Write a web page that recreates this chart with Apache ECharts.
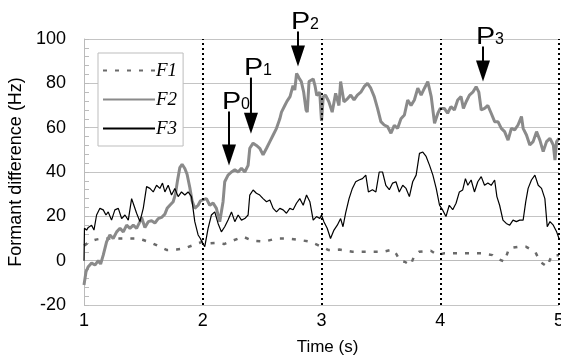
<!DOCTYPE html>
<html>
<head>
<meta charset="utf-8">
<script src="https://cdn.jsdelivr.net/npm/echarts@6/dist/echarts.min.js"></script>
<style>
  html, body { margin: 0; padding: 0; background: #fff; }
  #chart { width: 561px; height: 356px; }
</style>
</head>
<body>
<div id="chart"></div>
<script>
// F1 (dashed)
var f1Time = [1.00, 1.05, 1.10, 1.15, 1.25, 1.35, 1.45, 1.50, 1.57, 1.63, 1.70, 1.78, 1.85, 1.92, 2.00,
  2.06, 2.12, 2.18, 2.25, 2.34, 2.42, 2.52, 2.62, 2.72, 2.80, 2.90, 2.97, 3.06, 3.15, 3.26, 3.40,
  3.52, 3.60, 3.63, 3.66, 3.70, 3.75, 3.78, 3.82, 3.92, 3.98, 4.03, 4.15, 4.25, 4.35, 4.44, 4.48,
  4.54, 4.58, 4.66, 4.72, 4.80, 4.84, 4.90, 4.94, 5.00];
var f1Val = [6.8, 8.6, 9.5, 10, 10, 10, 10, 9.3, 8, 6.5, 4.8, 5, 5.6, 7, 8.6,
  7.8, 8, 7.5, 9, 10.8, 9, 8.6, 10, 10, 9.5, 8.6, 7, 4.8, 5, 4, 4,
  4, 5, 3, 0, -0.5, -2, 2, 4, 4.5, 2.5, 3.3, 3.3, 3.3, 3.3, 2.5, 1,
  -0.5, 5.6, 6.3, 6.3, 4, -0.5, -2.7, 2.5, 2.5];

// F2 (thick grey)
var f2Time = [1.000, 1.017, 1.036, 1.064, 1.092, 1.120, 1.140, 1.162, 1.190, 1.218, 1.246, 1.275, 1.303,
  1.331, 1.359, 1.387, 1.415, 1.443, 1.471, 1.485, 1.513, 1.541, 1.569, 1.597, 1.625, 1.653, 1.681,
  1.700, 1.723, 1.751, 1.770, 1.787, 1.807, 1.826, 1.849, 1.868, 1.891, 1.910, 1.933, 1.961, 1.980,
  2.000, 2.031, 2.059, 2.087, 2.115, 2.143, 2.157, 2.171, 2.185, 2.213, 2.242, 2.270, 2.298, 2.326,
  2.354, 2.382, 2.396, 2.424, 2.452, 2.480, 2.508, 2.537, 2.565, 2.593, 2.621, 2.649, 2.663, 2.691,
  2.710, 2.735, 2.760, 2.775, 2.790, 2.800, 2.815, 2.830, 2.850, 2.870, 2.880, 2.895, 2.930, 2.945,
  2.960, 2.985, 3.000, 3.015, 3.034, 3.062, 3.090, 3.119, 3.147, 3.161, 3.175, 3.189, 3.218, 3.246,
  3.274, 3.302, 3.331, 3.359, 3.387, 3.415, 3.444, 3.472, 3.500, 3.528, 3.556, 3.585, 3.613, 3.641,
  3.669, 3.698, 3.726, 3.754, 3.782, 3.811, 3.839, 3.867, 3.895, 3.924, 3.952, 3.980, 4.000, 4.034,
  4.062, 4.090, 4.119, 4.147, 4.175, 4.195, 4.218, 4.246, 4.274, 4.302, 4.325, 4.345, 4.373, 4.401,
  4.429, 4.458, 4.486, 4.514, 4.542, 4.571, 4.599, 4.627, 4.655, 4.684, 4.698, 4.726, 4.754, 4.782,
  4.811, 4.839, 4.867, 4.895, 4.924, 4.952, 4.966, 4.980, 5.000];
var f2Val = [-11, -5, -2.7, -1, -2, 0, -1.5, 2.5, 8.5, 11.6, 10, 13, 14.6,
  13, 16, 14.6, 16, 14.6, 17.6, 19.5, 15, 17.6, 18, 17, 19, 19.5, 21,
  23.6, 25, 26.6, 30, 36, 42, 43.5, 41.6, 39, 33, 27, 23.6, 25, 27,
  27.4, 28, 25, 26, 23.6, 17.6, 16.8, 26.6, 35.6, 38.6, 40, 41, 40, 41.7,
  40, 43, 50.7, 53, 52, 50.7, 47.7, 50.7, 53.7, 56.7, 59.7, 64, 67, 70,
  72, 74, 79, 77, 84.5, 83.5, 82, 80.8, 76, 68, 67, 80.8, 82, 79,
  74.5, 76, 63, 74, 74.7, 71.7, 67, 75.5, 70, 80.8, 80, 71.7, 73, 74.7,
  72.5, 74.7, 76, 78.5, 80, 77.8, 74, 68.7, 62.7, 61.2, 60.5, 57.5, 61, 59.7,
  64, 65.7, 72.5, 70, 72.5, 77.8, 74.7, 77.8, 80.8, 74, 62, 66.5, 68.7, 68.7,
  66.5, 69.5, 68, 72.5, 74, 68.7, 71.7, 74.7, 76, 78.5, 76, 68, 68.7, 70,
  66.5, 62.7, 62.7, 59.7, 58.2, 54.4, 59.7, 59, 61.2, 65, 59.7, 56.7, 52.2, 53.7,
  58.2, 54.4, 49.2, 53.7, 55.2, 52.2, 45.4, 53.7, 55.2];

// F3 (thin black)
var f3Time = [1.000, 1.004, 1.022, 1.036, 1.064, 1.084, 1.106, 1.134, 1.162, 1.185, 1.204, 1.232, 1.260,
  1.289, 1.317, 1.345, 1.373, 1.401, 1.420, 1.443, 1.471, 1.499, 1.527, 1.555, 1.583, 1.611, 1.639,
  1.661, 1.681, 1.709, 1.737, 1.765, 1.793, 1.821, 1.849, 1.877, 1.905, 1.933, 1.961, 1.980, 2.000,
  2.017, 2.045, 2.073, 2.101, 2.129, 2.157, 2.185, 2.213, 2.242, 2.270, 2.298, 2.326, 2.354, 2.382,
  2.396, 2.424, 2.452, 2.480, 2.508, 2.537, 2.565, 2.593, 2.621, 2.649, 2.677, 2.705, 2.733, 2.761,
  2.789, 2.817, 2.846, 2.874, 2.902, 2.930, 2.958, 2.986, 3.000, 3.020, 3.048, 3.076, 3.105, 3.133,
  3.161, 3.181, 3.203, 3.232, 3.260, 3.288, 3.316, 3.345, 3.373, 3.395, 3.429, 3.458, 3.486, 3.514,
  3.542, 3.571, 3.599, 3.627, 3.655, 3.684, 3.712, 3.740, 3.768, 3.797, 3.825, 3.853, 3.881, 3.910,
  3.938, 3.966, 3.994, 4.020, 4.048, 4.076, 4.105, 4.133, 4.161, 4.189, 4.212, 4.232, 4.260, 4.288,
  4.316, 4.345, 4.373, 4.401, 4.429, 4.458, 4.477, 4.500, 4.528, 4.556, 4.585, 4.613, 4.641, 4.669,
  4.698, 4.720, 4.740, 4.768, 4.797, 4.825, 4.853, 4.881, 4.901, 4.924, 4.952, 4.980, 5.000];
var f3Val = [0, 14.6, 13.8, 15, 16, 13.8, 20.6, 23.6, 22.9, 20.6, 22, 18.3, 22.9,
  23.6, 19, 20.6, 18.3, 28, 25, 21.4, 17.6, 23.6, 33.4, 32.6, 31, 34, 32.6,
  35, 31, 34, 29.6, 32.6, 28.9, 31, 29.6, 31, 28.9, 17.6, 11.6, 10, 7.8,
  6.3, 14.6, 20.6, 22, 16.8, 13, 15.3, 18.3, 22, 17.6, 20.6, 18.3, 19, 20.6,
  29.6, 31.9, 30.4, 29.6, 28, 26.6, 27.4, 23.6, 22, 23.6, 22.9, 21.4, 23.6, 23,
  25.9, 28, 25, 29.6, 26.6, 18.3, 19.9, 19, 20.6, 17.6, 14.6, 10, 13.8, 16,
  19, 15.3, 21.4, 28, 32.6, 35.6, 36.4, 37, 38.6, 31, 32, 31, 40, 40,
  34, 32, 35, 35.6, 31, 34, 32.6, 28.9, 35.6, 38.6, 48.4, 49, 47, 43,
  38.6, 32.6, 25, 22.9, 19.9, 25, 23, 25.9, 31, 31.9, 37, 34, 36.4, 31,
  35.6, 37.9, 34, 35, 34, 36.4, 28.9, 25, 18.3, 16.8, 16, 18.3, 17.6, 18.3,
  18.3, 26.6, 32.6, 36.4, 38.6, 34, 32.6, 28, 15.3, 17.6, 16, 13, 10];

// arrows P0..P3: x, shaft top, tip
var arrowTime = [2.221, 2.406, 2.802, 4.36];
var arrowTop = [67.3, 82.6, 103.4, 96.6];
var arrowTip = [42.9, 57.3, 87.6, 80.8];
var arrowLabel = ['0', '1', '2', '3'];

var timeTicks = [1, 2, 3, 4, 5];

function zip(a, b) {
  return a.map(function (v, i) { return [v, b[i]]; });
}

var chart = echarts.init(document.getElementById('chart'));

var arrowData = arrowTime.map(function (t, i) {
  return [t, arrowTop[i], arrowTip[i], arrowLabel[i]];
});

var option = {
  animation: false,
  grid: { left: 84, top: 39, width: 475, height: 266, outerBoundsMode: 'none', containLabel: false },
  legend: {
    orient: 'vertical',
    left: 98,
    top: 53,
    width: 89,
    padding: [8, 6, 8, 4],
    itemGap: 10,
    itemWidth: 52,
    itemHeight: 14,
    backgroundColor: '#fff',
    borderColor: '#bdbdbd',
    borderWidth: 1,
    itemStyle: { opacity: 0 },
    textStyle: {
      fontFamily: 'Liberation Serif',
      fontStyle: 'italic',
      fontSize: 19,
      color: '#000',
      padding: [0, 0, 0, -4]
    },
    data: ['F1', 'F2', 'F3']
  },
  xAxis: {
    type: 'value',
    min: 1,
    max: 5,
    interval: 1,
    name: 'Time (s)',
    nameLocation: 'middle',
    nameGap: 34,
    nameTextStyle: { fontFamily: 'Liberation Sans', fontSize: 17, color: '#000', padding: [0, 0, 0, 12] },
    axisLine: { lineStyle: { color: '#bbb', width: 1 } },
    axisTick: { show: false },
    splitLine: { show: false },
    axisLabel: {
      fontFamily: 'Liberation Sans', fontSize: 18, color: '#000', margin: 7,
      customValues: timeTicks
    }
  },
  yAxis: {
    type: 'value',
    min: -20,
    max: 100,
    interval: 20,
    name: 'Formant difference (Hz)',
    nameLocation: 'middle',
    nameGap: 59,
    nameTextStyle: { fontFamily: 'Liberation Sans', fontSize: 18, color: '#000' },
    axisLine: { show: true, lineStyle: { color: '#bbb', width: 1 } },
    axisTick: { show: true, inside: true, length: 5, lineStyle: { color: '#bbb' } },
    minorTick: { show: true, splitNumber: 5, length: 5, lineStyle: { color: '#bbb' } },
    splitLine: { show: true, lineStyle: { color: '#c4c4c4', width: 1 } },
    axisLabel: { fontFamily: 'Liberation Sans', fontSize: 18, color: '#000', margin: 18 }
  },
  series: [
    {
      name: 'F1',
      type: 'line',
      symbol: 'none',
      data: zip(f1Time, f1Val),
      lineStyle: { color: '#6a6a6a', width: 2.5, type: [4, 8] },
      itemStyle: { color: '#6a6a6a' },
      z: 3
    },
    {
      name: 'F2',
      type: 'line',
      symbol: 'none',
      data: zip(f2Time, f2Val),
      lineStyle: { color: '#8a8a8a', width: 3 },
      itemStyle: { color: '#8a8a8a' },
      z: 3
    },
    {
      name: 'F3',
      type: 'line',
      symbol: 'none',
      data: zip(f3Time, f3Val),
      lineStyle: { color: '#000', width: 1.2 },
      itemStyle: { color: '#000' },
      z: 4,
      markLine: {
        silent: true,
        symbol: 'none',
        label: { show: false },
        lineStyle: { color: '#000', type: [2, 3], width: 2 },
        data: [{ xAxis: 2 }, { xAxis: 3 }, { xAxis: 4 }, { xAxis: 5 }]
      }
    },
    {
      name: 'arrows',
      type: 'custom',
      clip: false,
      z: 6,
      data: arrowData,
      renderItem: function (params, api) {
        var top = api.coord([api.value(0), api.value(1)]);
        var tip = api.coord([api.value(0), api.value(2)]);
        var headLen = 21, half = 7;
        var x = tip[0];
        return {
          type: 'group',
          children: [
            {
              type: 'line',
              shape: { x1: x, y1: top[1], x2: x, y2: tip[1] - headLen + 1 },
              style: { stroke: '#000', lineWidth: 2 }
            },
            {
              type: 'polygon',
              shape: { points: [[x - half, tip[1] - headLen], [x + half, tip[1] - headLen], [x, tip[1]]] },
              style: { fill: '#000' }
            },
            {
              type: 'text',
              x: x - 7,
              y: top[1] + 3,
              scaleX: 1.25,
              style: {
                text: 'P', fontFamily: 'Liberation Sans', fontSize: 23,
                fill: '#000', textAlign: 'left', textVerticalAlign: 'bottom'
              }
            },
            {
              type: 'text',
              x: x + 12,
              y: top[1] + 1,
              style: {
                text: api.value(3) + '', fontFamily: 'Liberation Sans', fontSize: 16,
                fill: '#000', textAlign: 'left', textVerticalAlign: 'bottom'
              }
            }
          ]
        };
      }
    }
  ]
};

chart.setOption(option);
window.addEventListener('resize', function () { chart.resize(); });
</script>
</body>
</html>
